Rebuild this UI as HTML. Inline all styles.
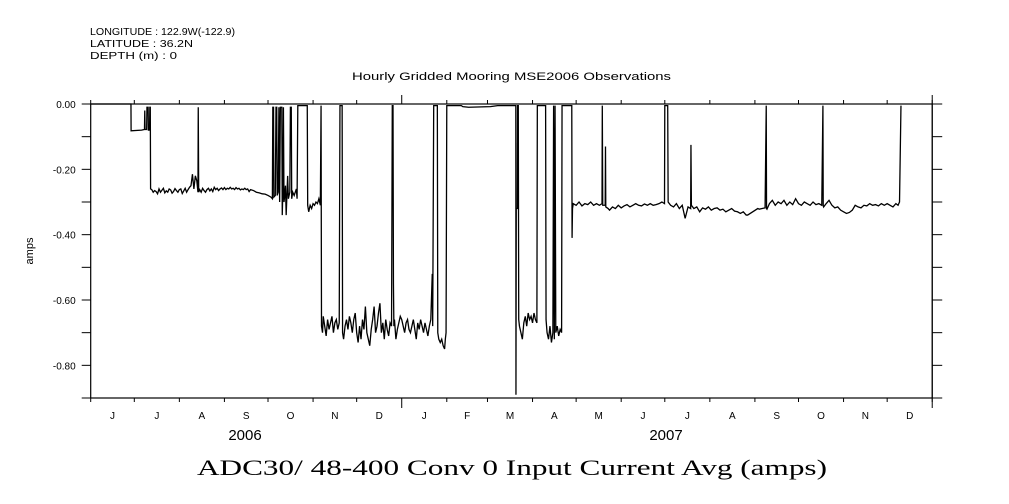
<!DOCTYPE html>
<html><head><meta charset="utf-8"><style>
body{margin:0;background:#fff;}
svg{display:block;}
text{font-family:"Liberation Sans",sans-serif;fill:#000;}
</style></head><body>
<svg id="chart" width="1009" height="504" viewBox="0 0 1009 504" xmlns="http://www.w3.org/2000/svg">
<g font-size="10">
<text x="90" y="35" textLength="145" lengthAdjust="spacingAndGlyphs">LONGITUDE : 122.9W(-122.9)</text>
<text x="90" y="47" textLength="103" lengthAdjust="spacingAndGlyphs">LATITUDE : 36.2N</text>
<text x="90" y="59" textLength="87" lengthAdjust="spacingAndGlyphs">DEPTH (m) : 0</text>
</g>
<text x="352" y="80" textLength="319" lengthAdjust="spacingAndGlyphs" font-size="11">Hourly Gridded Mooring MSE2006 Observations</text>
<text x="33" y="251" text-anchor="middle" font-size="11" transform="rotate(-90 33 251)">amps</text>
<text x="197" y="475" textLength="630" lengthAdjust="spacingAndGlyphs" font-size="22" style="font-family:'Liberation Serif',serif">ADC30/ 48-400 Conv 0 Input Current  Avg (amps)</text>
<g id="axes"></g>
<g id="series"></g>
</svg>
<script>
const yTicks=[0,-0.1,-0.2,-0.3,-0.4,-0.5,-0.6,-0.7,-0.8,-0.9];
const yLabels=["0.00","","-0.20","","-0.40","","-0.60","","-0.80",""];
const monthLabels=["J","J","A","S","O","N","D","J","F","M","A","M","J","J","A","S","O","N","D"];
const monthDays=[30,31,31,30,31,30,31,31,28,31,30,31,30,31,31,30,31,30,31];
const yearLabels=["2006","2007"];
// [day since 2006-06-01, amps]
const days=[0,27.7,27.8,35,37,37.2,37.4,38.5,38.7,39.5,39.7,40.5,40.7,41,41.2,
42,43,44,45,46,47,48,49,50,51,52,53,54,55,56,57,58,59,60,61,62,63,64,65,66,67,68,69,70,71,72,73,73.8,74,74.3,
75,76,77,78,79,80,81,82,83,84,85,86,87,88,89,90,91,92,93,94,95,96,97,98,99,100,101,102,103,104,105,106,107,108,109,110,112,114,116,118,120,122,124,125,
125.3,125.8,126,127,127.5,128,128.3,129,129.5,130,130.5,131.5,131.8,132.3,132.6,133,133.5,134,134.5,135,135.5,136,137,137.4,138,138.3,139,140,141.5,142,142.5,149,
149.3,150,151,152,153,154,155,156,157,158,158.5,158.8,
159.5,160,161,162,163,164,165,166,167,168,169,170,171,171.5,173,173.3,174,175,176,177,178,179,180,181,182,183,184,185,186,187,188,189,190,191,192,193,194,195,196,197,198,199,200,201,202,203,204,205,206,207,207.5,208,208.3,208.6,209,210,211,212,213,214,215,216,217,218,219,220,221,222,223,224,225,226,227,228,229,230,231,232,233,234,235,235.3,236,238.5,238.8,239.5,240.5,241.5,242.5,243.5,244,244.5,245,255,256,260,275,280,292.5,292.6,292.8,293.5,293.7,294.2,294.5,295,296,297,298,299,300,301,302,303,304,305,306,307,307.3,313,313.3,314,315,316,317,318,318.5,319,319.5,320,321,322,323,324,324.3,331,331.2,331.5,
332,334,336,338,340,342,344,346,348,350,351.8,352,352.3,354,354.2,354.4,356,357,359,361,363,365,367,369,371,373,375,377,379,381,383,385,387,389,391,393,394.8,395,397,397.3,399,401,403,405,407,409,411,412.8,413,413.3,415,417,419,421,423,425,427,429,431,433,435,437,439,441,443,445,447,449,451,452,459,460,462,464,464.8,465,465.3,467,469,471,473,475,477,479,481,483,485,487,489,491,493,495,497,499,501,503,503.8,504,504.3,506,508,510,512,514,516,518,520,522,524,526,528,530,532,534,536,538,540,542,544,546,548,550,552,554,555.5,556.5,557.5];
const amps=[0,0,-0.082,-0.08,-0.078,-0.02,-0.078,-0.078,-0.01,-0.01,-0.08,-0.08,-0.01,-0.01,-0.26,
-0.262,-0.27,-0.265,-0.268,-0.275,-0.26,-0.27,-0.264,-0.258,-0.272,-0.266,-0.27,-0.26,-0.263,-0.273,-0.268,-0.259,-0.265,-0.27,-0.262,-0.26,-0.274,-0.266,-0.258,-0.27,-0.262,-0.255,-0.25,-0.215,-0.26,-0.22,-0.235,-0.27,-0.01,-0.27,
-0.262,-0.27,-0.258,-0.265,-0.27,-0.262,-0.258,-0.266,-0.26,-0.268,-0.255,-0.262,-0.258,-0.265,-0.26,-0.257,-0.262,-0.256,-0.262,-0.258,-0.26,-0.255,-0.26,-0.258,-0.262,-0.256,-0.26,-0.258,-0.263,-0.26,-0.262,-0.258,-0.262,-0.26,-0.268,-0.262,-0.265,-0.27,-0.272,-0.275,-0.276,-0.28,-0.285,-0.29,
-0.01,-0.01,-0.285,-0.28,-0.01,-0.01,-0.28,-0.27,-0.01,-0.3,-0.01,-0.01,-0.34,-0.25,-0.01,-0.3,-0.28,-0.25,-0.34,-0.28,-0.22,-0.29,-0.27,-0.01,-0.01,-0.29,-0.27,-0.28,-0.26,-0.29,-0.005,-0.005,
-0.31,-0.33,-0.31,-0.32,-0.305,-0.31,-0.3,-0.305,-0.29,-0.31,-0.005,-0.68,
-0.7,-0.65,-0.68,-0.71,-0.66,-0.69,-0.67,-0.65,-0.7,-0.67,-0.66,-0.69,-0.67,-0.005,-0.005,-0.7,-0.72,-0.68,-0.66,-0.69,-0.65,-0.67,-0.7,-0.66,-0.64,-0.7,-0.73,-0.68,-0.72,-0.66,-0.69,-0.62,-0.7,-0.72,-0.74,-0.69,-0.66,-0.62,-0.7,-0.68,-0.64,-0.61,-0.7,-0.67,-0.72,-0.66,-0.69,-0.71,-0.67,-0.68,-0.005,-0.005,-0.55,-0.68,-0.66,-0.72,-0.69,-0.67,-0.65,-0.66,-0.68,-0.7,-0.67,-0.66,-0.69,-0.7,-0.68,-0.66,-0.69,-0.72,-0.67,-0.69,-0.66,-0.68,-0.7,-0.67,-0.69,-0.71,-0.68,-0.66,-0.52,-0.68,-0.005,-0.005,-0.7,-0.72,-0.73,-0.72,-0.74,-0.75,-0.72,-0.7,-0.005,-0.005,-0.008,-0.01,-0.008,-0.005,-0.005,-0.89,-0.32,-0.32,-0.005,-0.005,-0.66,-0.68,-0.7,-0.72,-0.67,-0.65,-0.68,-0.64,-0.66,-0.65,-0.67,-0.64,-0.66,-0.67,-0.005,-0.005,-0.66,-0.7,-0.72,-0.68,-0.73,-0.7,-0.005,-0.72,-0.005,-0.7,-0.68,-0.71,-0.69,-0.7,-0.005,-0.005,-0.41,-0.32,
-0.305,-0.31,-0.3,-0.312,-0.305,-0.308,-0.3,-0.31,-0.305,-0.31,-0.305,-0.005,-0.31,-0.31,-0.13,-0.315,-0.32,-0.325,-0.315,-0.32,-0.31,-0.318,-0.312,-0.308,-0.315,-0.31,-0.305,-0.31,-0.312,-0.306,-0.31,-0.305,-0.31,-0.308,-0.305,-0.3,-0.305,-0.005,-0.005,-0.3,-0.31,-0.315,-0.305,-0.32,-0.31,-0.35,-0.315,-0.32,-0.125,-0.31,-0.32,-0.315,-0.33,-0.318,-0.322,-0.315,-0.325,-0.32,-0.318,-0.325,-0.322,-0.33,-0.325,-0.32,-0.328,-0.33,-0.335,-0.33,-0.34,-0.34,-0.32,-0.322,-0.32,-0.318,-0.005,-0.32,-0.322,-0.305,-0.295,-0.31,-0.3,-0.305,-0.295,-0.31,-0.3,-0.308,-0.29,-0.305,-0.31,-0.3,-0.305,-0.31,-0.3,-0.308,-0.305,-0.31,-0.005,-0.31,-0.315,-0.305,-0.295,-0.31,-0.318,-0.315,-0.325,-0.33,-0.335,-0.332,-0.325,-0.31,-0.315,-0.318,-0.31,-0.312,-0.305,-0.31,-0.308,-0.312,-0.305,-0.31,-0.305,-0.31,-0.315,-0.305,-0.31,-0.3,-0.005];

const L=90.7,T=104,B=398,PXDAY=1.4534,VMIN=-0.9;
const xs=d=>L+d*PXDAY;
const ys=v=>T+(v/VMIN)*(B-T);
const R=xs(monthDays.reduce((a,b)=>a+b,0));
const NS="http://www.w3.org/2000/svg";
const axes=document.getElementById('axes');
function mk(tag,attrs,parent){const e=document.createElementNS(NS,tag);for(const k in attrs)e.setAttribute(k,attrs[k]);parent.appendChild(e);return e;}
let fr=mk('rect',{x:L,y:T,width:R-L,height:B-T,fill:'none',stroke:'#000','stroke-width':1.2},axes);


yTicks.forEach((v,i)=>{
  const y=ys(v);
  const t1=mk('line',{x1:L-9,x2:L,y1:y,y2:y,stroke:'#000'},axes);
  
  
  const t2=mk('line',{x1:R,x2:R+10,y1:y,y2:y,stroke:'#000'},axes);
  
  
  if(yLabels[i]){const tx=mk('text',{x:L-15,y:y+4,'text-anchor':'end','font-size':10},axes);tx.textContent=yLabels[i];
  
  }
});
let acc=0;
for(let i=0;i<=monthDays.length;i++){
  const x=xs(acc);
  const major=(i===7);
  const a=mk('line',{x1:x,x2:x,y1:B,y2:B+(major?10:4),stroke:'#000'},axes);
  
  
  const b=mk('line',{x1:x,x2:x,y1:T,y2:T-(major?9:4),stroke:'#000'},axes);
  
  
  if(i<monthDays.length){
    const tx=mk('text',{x:xs(acc+monthDays[i]/2),y:419,'text-anchor':'middle','font-size':10},axes);
    tx.textContent=monthLabels[i];
    
    
    acc+=monthDays[i];
  }
}
mk('line',{x1:R,x2:R,y1:T-9,y2:B+10,stroke:'#000'},axes);
const y1=mk('text',{x:245,y:440,'text-anchor':'middle','font-size':15},axes);y1.textContent=yearLabels[0];


const y2=mk('text',{x:666,y:440,'text-anchor':'middle','font-size':15},axes);y2.textContent=yearLabels[1];


const pts=days.map((d,i)=>xs(d).toFixed(2)+','+ys(amps[i]).toFixed(2)).join(' ');
const pl=mk('polyline',{points:pts,fill:'none',stroke:'#000','stroke-width':1.3,'stroke-linejoin':'miter'},document.getElementById('series'));


</script>
</body></html>
